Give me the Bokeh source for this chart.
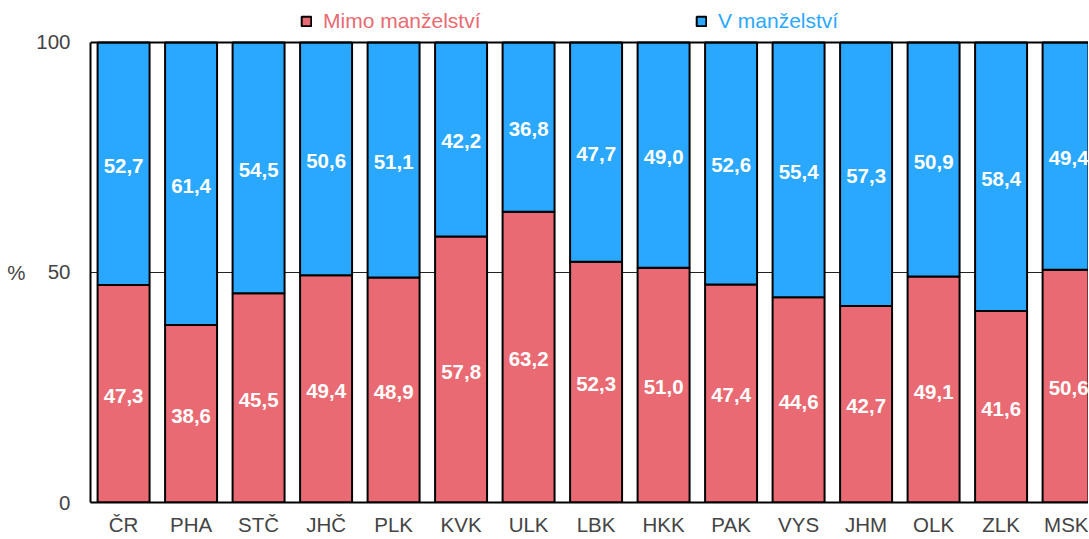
from bokeh.plotting import figure
from bokeh.models import (ColumnDataSource, FixedTicker, Legend, LegendItem, Span, Range1d,
                          LinearAxis)
from bokeh.core.properties import value
from bokeh.embed import file_html
from bokeh.resources import INLINE

regions = ["ČR", "PHA", "STČ", "JHČ", "PLK", "KVK", "ULK", "LBK", "HKK", "PAK", "VYS", "JHM", "OLK", "ZLK", "MSK"]
mimo = [47.3, 38.6, 45.5, 49.4, 48.9, 57.8, 63.2, 52.3, 51.0, 47.4, 44.6, 42.7, 49.1, 41.6, 50.6]
vmanz = [52.7, 61.4, 54.5, 50.6, 51.1, 42.2, 36.8, 47.7, 49.0, 52.6, 55.4, 57.3, 50.9, 58.4, 49.4]
series_names = ["Mimo manželství", "V manželství"]
y_ticks = [0, 50, 100]
y_unit = "%"

RED = "#E96A72"
BLUE = "#2AA8FF"
FONT = "Liberation Sans"
FS = "20.5px"

xs = list(range(len(regions)))
src = ColumnDataSource(dict(
    x=xs,
    mimo=mimo,
    vmanz=vmanz,
    top_all=[a + b for a, b in zip(mimo, vmanz)],
    mimo_mid=[a / 2 for a in mimo],
    v_mid=[a + b / 2 for a, b in zip(mimo, vmanz)],
    mimo_lbl=[f"{v:.1f}".replace(".", ",") for v in mimo],
    v_lbl=[f"{v:.1f}".replace(".", ",") for v in vmanz],
))

p = figure(width=1088, height=538, output_backend="svg", toolbar_location=None,
           x_range=Range1d(-0.49, 14.295), y_range=Range1d(0, 109.11),
           min_border_left=90, min_border_top=0, min_border_bottom=35, min_border_right=0)
p.outline_line_color = None
p.background_fill_color = "white"
p.border_fill_color = "white"

r1 = p.vbar(x="x", bottom=0, top="mimo", width=0.77, source=src,
            fill_color=RED, line_color="black", line_width=2)
r2 = p.vbar(x="x", bottom="mimo", top="top_all", width=0.77, source=src,
            fill_color=BLUE, line_color="black", line_width=2)

p.text(x="x", y="mimo_mid", text="mimo_lbl", source=src, text_color="white",
       text_font=value(FONT), text_font_style="bold", text_font_size=FS,
       text_align="center", text_baseline="middle", y_offset=2)
p.text(x="x", y="v_mid", text="v_lbl", source=src, text_color="white",
       text_font=value(FONT), text_font_style="bold", text_font_size=FS,
       text_align="center", text_baseline="middle", y_offset=2)

p.add_layout(Span(location=100, dimension="width", line_color="black", line_width=2))

# main y axis
p.yaxis.ticker = FixedTicker(ticks=y_ticks)
p.yaxis.bounds = (0, 100)
p.yaxis.major_label_text_font = FONT
p.yaxis.major_label_text_font_size = FS
p.yaxis.major_label_standoff = 20
p.yaxis.major_tick_in = 0
p.yaxis.major_tick_out = 0
p.yaxis.minor_tick_line_color = None
p.yaxis.axis_line_color = "black"
p.yaxis.axis_line_width = 2

# outer axis only carrying the unit "%" beside the 50 tick
unit_axis = LinearAxis(ticker=FixedTicker(ticks=[50]), major_label_overrides={50: y_unit},
                       axis_line_color=None, major_tick_in=0, major_tick_out=0,
                       minor_tick_line_color=None, major_label_standoff=8,
                       major_label_text_font=FONT, major_label_text_font_size=FS)
p.add_layout(unit_axis, "left")

p.xaxis.ticker = FixedTicker(ticks=xs)
p.xaxis.major_label_overrides = {i: r for i, r in enumerate(regions)}
p.xaxis.major_label_text_font = FONT
p.xaxis.major_label_text_font_size = FS
p.xaxis.major_label_standoff = 10
p.xaxis.major_tick_in = 0
p.xaxis.major_tick_out = 0
p.xaxis.minor_tick_line_color = None
p.xaxis.axis_line_color = "black"
p.xaxis.axis_line_width = 2

p.xgrid.grid_line_color = None
p.ygrid.ticker = FixedTicker(ticks=[50])
p.ygrid.grid_line_color = "#222222"
p.ygrid.grid_line_width = 1
p.ygrid.level = "underlay"

# legends (two, each with its own text colour), placed in the white area above 100
for rend, name, col, xpos in [(r1, series_names[0], RED, 210), (r2, series_names[1], BLUE, 605)]:
    lg = Legend(items=[LegendItem(label=name, renderers=[rend])],
                location=(xpos, 469), orientation="horizontal",
                label_text_color=col, label_text_font=FONT, label_text_font_size="21px",
                glyph_width=12, glyph_height=12, label_standoff=11,
                padding=0, margin=0, border_line_color=None, background_fill_alpha=0)
    p.add_layout(lg, "center")

open("out.html", "w").write(file_html(p, INLINE))
